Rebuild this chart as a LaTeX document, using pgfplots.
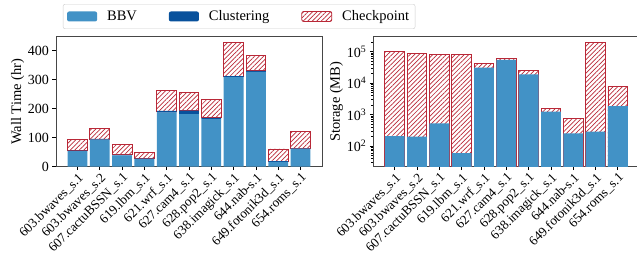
\documentclass[border=0pt]{standalone}
\usepackage{fontspec}
\setmainfont{Liberation Serif}
\usepackage{pgfplots}
\pgfplotsset{compat=1.18}
\usetikzlibrary{patterns.meta}
\definecolor{bbv}{RGB}{66,146,198}
\definecolor{clu}{RGB}{8,81,156}
\definecolor{ckp}{RGB}{185,40,55}
\definecolor{spine}{RGB}{70,70,70}
\pgfplotsset{
  common/.style={
    scale only axis, width=266pt, height=130pt,
    xmin=-0.96, xmax=10.96,
    xtick={0,1,2,3,4,5,6,7,8,9,10},
    xticklabels={603.bwaves\_s.1,603.bwaves\_s.2,607.cactuBSSN\_s.1,619.lbm\_s.1,621.wrf\_s.1,627.cam4\_s.1,628.pop2\_s.1,638.imagick\_s.1,644.nab-s.1,649.fotonik3d\_s.1,654.roms\_s.1},
    x tick label style={rotate=45, anchor=north east, inner sep=1pt, font=\fontsize{13.2}{14}\selectfont},
    y tick label style={font=\fontsize{14}{15}\selectfont},
    label style={font=\fontsize{14.5}{15}\selectfont},
    every axis y label/.append style={yshift=-3pt},
    tick align=outside, xtick pos=bottom, ytick pos=left,
    major tick length=3.5pt, minor tick length=2pt,
    axis line style={spine, line width=0.8pt},
    every tick/.style={black, line width=0.8pt},
    /pgf/number format/assume math mode=true,
    bar width=19.8pt,
  },
  hatchck/.style={pattern={Lines[angle=45,distance=3.2pt,line width=0.7pt]}, pattern color=ckp, draw=ckp, line width=0.9pt},
}
\begin{document}
\begin{tikzpicture}
\begin{axis}[common, at={(56pt,-166.7pt)}, anchor=south west,
  ybar stacked, ymin=0, ymax=448, ytick={0,100,200,300,400},
  ylabel={Wall Time (hr)},
  legend columns=3,
  legend style={at={(axis description cs:0.026,1.2515)}, anchor=north west,
    draw={rgb,255:red,204;green,204;blue,204}, rounded corners=2pt,
    font=\fontsize{14.5}{15}\selectfont, inner xsep=4pt, inner ysep=4.5pt,
    /tikz/every even column/.append style={column sep=30pt}},
]
\addplot[fill=bbv, draw=none, legend image code/.code={\fill[bbv] (0pt,-5pt) rectangle (30pt,5pt); \path (38pt,0pt);}] coordinates {(0,54) (1,94) (2,39) (3,27) (4,186) (5,181) (6,164) (7,309) (8,327) (9,17) (10,62)};
\addlegendentry{BBV}
\addplot[fill=clu, draw=none, legend image code/.code={\fill[clu] (0pt,-5pt) rectangle (30pt,5pt); \path (38pt,0pt);}] coordinates {(0,1.5) (1,1.5) (2,1.5) (3,1) (4,6) (5,12) (6,4) (7,3) (8,3) (9,2) (10,1.5)};
\addlegendentry{Clustering}
\addplot[hatchck, legend image code/.code={\draw[pattern={Lines[angle=45,distance=3.2pt,line width=0.7pt]}, pattern color=ckp, draw=ckp, line width=0.9pt] (0pt,-5pt) rectangle (30pt,5pt); \path (38pt,0pt);}] coordinates {(0,39) (1,36.5) (2,35.5) (3,20) (4,71) (5,64) (6,63) (7,116) (8,53) (9,42) (10,57.5)};
\addlegendentry{Checkpoint}
\end{axis}
\begin{axis}[common, at={(373.3pt,-166.7pt)}, anchor=south west,
  ybar, ymode=log, ymin=22, ymax=3e5,
  ytick={100,1000,10000,100000},
  yticklabels={10\textsuperscript{2},10\textsuperscript{3},10\textsuperscript{4},10\textsuperscript{5}},
  minor ytick={30,40,50,60,70,80,90,200,300,400,500,600,700,800,900,2000,3000,4000,5000,6000,7000,8000,9000,20000,30000,40000,50000,60000,70000,80000,90000,200000},
  ylabel={Storage (MB)},
]
\addplot[hatchck, bar shift=0pt] coordinates {(0,100000) (1,89000) (2,83000) (3,79000) (4,43000) (5,62000) (6,25000) (7,1590) (8,730) (9,196000) (10,7800)};
\addplot[fill=bbv, draw=none, bar shift=0pt] coordinates {(0,208) (1,198) (2,528) (3,59) (4,31000) (5,55000) (6,19000) (7,1240) (8,254) (9,286) (10,1870)};
\end{axis}
\pgfresetboundingbox
\path[use as bounding box] (0,0) rectangle (637pt,-261pt);
\end{tikzpicture}
\end{document}
